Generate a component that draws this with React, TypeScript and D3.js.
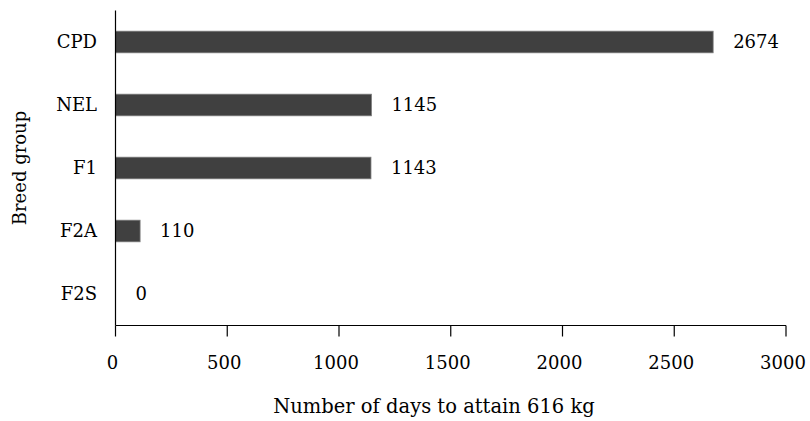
import React from 'react'
import * as d3 from 'd3'

const categories = ['CPD', 'NEL', 'F1', 'F2A', 'F2S']
const values = [2674, 1145, 1143, 110, 0]
const xTicks = [0, 500, 1000, 1500, 2000, 2500, 3000]

const width = 810
const height = 421
const font = "'DejaVu Serif', serif"
const fs = 18

export default function App() {
  const x = d3.scaleLinear().domain([0, 3000]).range([115.5, 786])
  const y = d3
    .scaleBand<string>()
    .domain(categories)
    .range([10.5, 325.5])
    .paddingInner(0.657)
    .paddingOuter(0.3285)
  const axisY = 325.5

  return (
    <svg
      width={width}
      height={height}
      style={{ position: 'absolute', left: 0, top: 0, background: '#fff' }}
      fontFamily={font}
    >
      {/* bars */}
      {categories.map((c, i) => (
        <rect
          key={c}
          x={x(0)}
          y={y(c)!}
          width={Math.max(0, x(values[i]) - x(0))}
          height={y.bandwidth()}
          fill="#404040"
          stroke="#7a7a7a"
          strokeWidth={values[i] > 0 ? 0.8 : 0}
        />
      ))}
      {/* value labels */}
      {categories.map((c, i) => (
        <text
          key={c}
          x={x(values[i]) + 20}
          y={y(c)! + y.bandwidth() / 2}
          dy="0.35em"
          fontSize={fs}
          fill="#000"
        >
          {values[i]}
        </text>
      ))}
      {/* y axis */}
      <line x1={115.5} x2={115.5} y1={10.5} y2={axisY} stroke="#000" strokeWidth={1.2} />
      {categories.map((c) => (
        <text
          key={c}
          x={97}
          y={y(c)! + y.bandwidth() / 2}
          dy="0.35em"
          textAnchor="end"
          fontSize={fs}
          fill="#000"
        >
          {c}
        </text>
      ))}
      {/* x axis */}
      <line x1={x(0)} x2={x(3000)} y1={axisY} y2={axisY} stroke="#000" strokeWidth={1.2} />
      {xTicks.map((t) => (
        <g key={t}>
          <line x1={x(t)} x2={x(t)} y1={axisY} y2={axisY + 11} stroke="#000" strokeWidth={1.2} />
          <text x={x(t) - 3} y={363} dy="0.35em" textAnchor="middle" fontSize={fs} fill="#000">
            {t}
          </text>
        </g>
      ))}
      <text x={434} y={406} dy="0.35em" textAnchor="middle" fontSize={19.5} fill="#000">
        Number of days to attain 616 kg
      </text>
      <text
        transform="translate(20,168) rotate(-90)"
        dy="0.35em"
        textAnchor="middle"
        fontSize={fs}
        fill="#000"
      >
        Breed group
      </text>
    </svg>
  )
}
